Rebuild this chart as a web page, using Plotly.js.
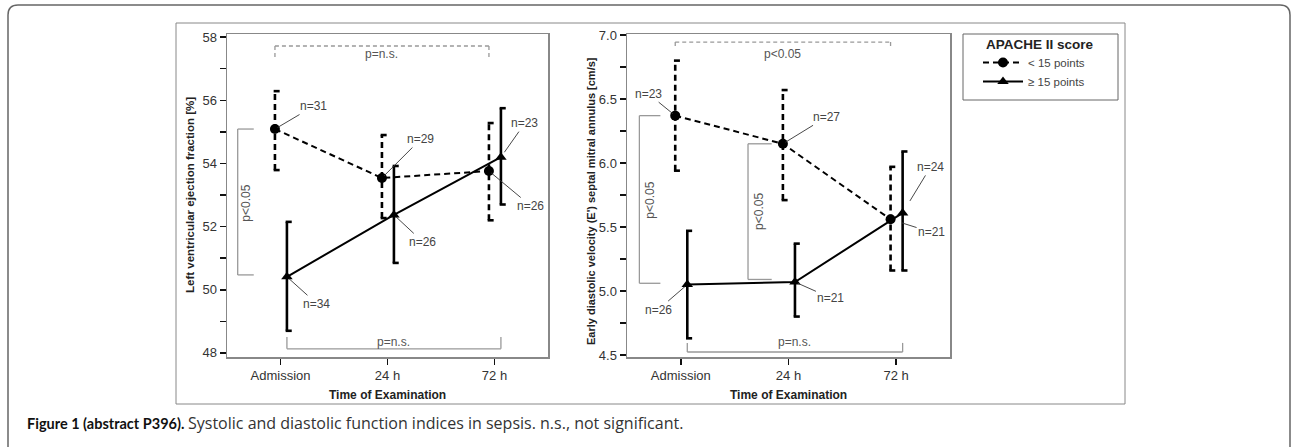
<!DOCTYPE html>
<html>
<head>
<meta charset="utf-8">
<script src="https://cdn.plot.ly/plotly-3.0.1.min.js"></script>
<style>
html,body{margin:0;padding:0;background:#fff;}
#chart{width:1292px;height:447px;}
</style>
</head>
<body>
<div id="chart"></div>
<script>
// ---------- data ----------
const timepoints = ['Admission', '24 h', '72 h'];
const seriesNames = ['< 15 points', '\u2265 15 points'];

// Left ventricular ejection fraction [%]
const efLowMean = [55.09, 53.54, 53.76];
const efLowUpper = [56.29, 54.90, 55.28];
const efLowLower = [53.79, 52.27, 52.20];
const efLowN = [31, 29, 26];
const efHighMean = [50.41, 52.37, 54.20];
const efHighUpper = [52.15, 53.92, 55.75];
const efHighLower = [48.70, 50.85, 52.70];
const efHighN = [34, 26, 23];

// Early diastolic velocity (E') [cm/s]
const eLowMean = [6.37, 6.15, 5.56];
const eLowUpper = [6.80, 6.57, 5.97];
const eLowLower = [5.94, 5.71, 5.16];
const eLowN = [23, 27, 21];
const eHighMean = [5.05, 5.07, 5.61];
const eHighUpper = [5.47, 5.37, 6.09];
const eHighLower = [4.63, 4.80, 5.16];
const eHighN = [26, 21, 24];

const efTicks = [48, 49, 50, 51, 52, 53, 54, 55, 56, 57, 58];
const eTicks = [4.5, 4.75, 5.0, 5.25, 5.5, 5.75, 6.0, 6.25, 6.5, 6.75, 7.0];

// ---------- helpers ----------
const W = 1292, H = 447;
const px = v => v / W;
const py = v => 1 - v / H;
const idx = [0, 1, 2];
const OFF_LOW = -0.052, OFF_HIGH = 0.06;
const xLow = idx.map(i => i + OFF_LOW);
const xHigh = idx.map(i => i + OFF_HIGH);

function errTrace(xs, lo, hi, dash, xa, ya) {
  const X = [], Y = [];
  xs.forEach((x, i) => {
    X.push(x, x, null, x - 0.012, x + 0.045, null, x - 0.012, x + 0.045, null);
    Y.push(lo[i], hi[i], null, hi[i], hi[i], null, lo[i], lo[i], null);
  });
  return {x: X, y: Y, mode: 'lines', xaxis: xa, yaxis: ya, showlegend: false, hoverinfo: 'skip',
          line: {color: '#000', width: 2.6, dash: dash}};
}
function meanTrace(xs, ys, name, dash, sym, xa, ya, legend) {
  return {x: xs, y: ys, name: name, mode: 'lines+markers', xaxis: xa, yaxis: ya, showlegend: legend,
          line: {color: '#000', width: 2, dash: dash},
          marker: {color: '#000', size: 10, symbol: sym}};
}

const DASH = '6px,4px';
const traces = [
  errTrace(xLow, efLowLower, efLowUpper, DASH, 'x', 'y'),
  errTrace(xHigh, efHighLower, efHighUpper, 'solid', 'x', 'y'),
  meanTrace(xLow, efLowMean, seriesNames[0], DASH, 'circle', 'x', 'y', true),
  meanTrace(xHigh, efHighMean, seriesNames[1], 'solid', 'triangle-up', 'x', 'y', true),
  errTrace(xLow, eLowLower, eLowUpper, DASH, 'x2', 'y2'),
  errTrace(xHigh, eHighLower, eHighUpper, 'solid', 'x2', 'y2'),
  meanTrace(xLow, eLowMean, seriesNames[0], DASH, 'circle', 'x2', 'y2', false),
  meanTrace(xHigh, eHighMean, seriesNames[1], 'solid', 'triangle-up', 'x2', 'y2', false)
];

// ---------- annotations ----------
const NFONT = {family: 'Liberation Sans, Arial, sans-serif', size: 12, color: '#444'};
function nLabel(x, y, n, ax, ay, xr, yr, standoff) {
  return {x: x, y: y, xref: xr, yref: yr, text: 'n=' + n, showarrow: true, arrowhead: 0,
          arrowwidth: 0.9, arrowcolor: '#333', ax: ax, ay: ay, standoff: standoff || 3, font: NFONT};
}
const BR = '#999';
const BFONT = {family: 'Liberation Sans, Arial, sans-serif', size: 12, color: '#555'};
function txt(x, y, xr, yr, text, font, angle) {
  return {x: x, y: y, xref: xr, yref: yr, text: text, showarrow: false, font: font,
          xanchor: 'center', yanchor: 'middle', textangle: angle || 0};
}
const TITLEFONT = {family: 'Liberation Sans, Arial, sans-serif', size: 12, color: '#222'};
const annotations = [
  nLabel(xLow[0], efLowMean[0], efLowN[0], 39, -23, 'x', 'y'),
  nLabel(xLow[1], efLowMean[1], efLowN[1], 39, -39, 'x', 'y'),
  nLabel(xLow[2], efLowMean[2], efLowN[2], 42, 35, 'x', 'y'),
  nLabel(xHigh[0], efHighMean[0], efHighN[0], 30, 27, 'x', 'y'),
  nLabel(xHigh[1], efHighMean[1], efHighN[1], 29, 27, 'x', 'y'),
  nLabel(xHigh[2], efHighMean[2], efHighN[2], 24, -34, 'x', 'y', 6),
  nLabel(xLow[0], eLowMean[0], eLowN[0], -27, -22, 'x2', 'y2'),
  nLabel(xLow[1], eLowMean[1], eLowN[1], 44, -27, 'x2', 'y2'),
  nLabel(xLow[2], eLowMean[2], eLowN[2], 41, 13, 'x2', 'y2', 12),
  nLabel(xHigh[0], eHighMean[0], eHighN[0], -29, 25, 'x2', 'y2'),
  nLabel(xHigh[1], eHighMean[1], eHighN[1], 36, 16, 'x2', 'y2'),
  nLabel(xHigh[2], eHighMean[2], eHighN[2], 28, -46, 'x2', 'y2', 14),
  // bracket texts
  txt((xLow[0] + xLow[2]) / 2, 57.48, 'x', 'y', 'p=n.s.', BFONT),
  txt((xHigh[0] + xHigh[2]) / 2, 48.36, 'x', 'y', 'p=n.s.', BFONT),
  txt(-0.325, (efLowMean[0] + efHighMean[0]) / 2, 'x', 'y', 'p<0.05', BFONT, -90),
  txt((xLow[0] + xLow[2]) / 2, 6.855, 'x2', 'y2', 'p<0.05', BFONT),
  txt((xHigh[0] + xHigh[2]) / 2, 4.605, 'x2', 'y2', 'p=n.s.', BFONT),
  txt(-0.29, 5.71, 'x2', 'y2', 'p<0.05', BFONT, -90),
  txt(0.72, 5.62, 'x2', 'y2', 'p<0.05', BFONT, -90),
  // axis titles
  txt(px(190), py(195), 'paper', 'paper', '<b>Left ventricular ejection fraction [%]</b>',
      {family: 'Liberation Sans, Arial, sans-serif', size: 11.5, color: '#222'}, -90),
  txt(px(591), py(201), 'paper', 'paper', "<b>Early diastolic velocity (E') septal mitral annulus [cm/s]</b>",
      {family: 'Liberation Sans, Arial, sans-serif', size: 11, color: '#222'}, -90),
  txt(px(387), py(395), 'paper', 'paper', '<b>Time of Examination</b>', TITLEFONT),
  txt(px(788), py(395), 'paper', 'paper', '<b>Time of Examination</b>', TITLEFONT),
  // legend title
  txt(px(1040), py(45), 'paper', 'paper', '<b>APACHE II score</b>',
      {family: 'Liberation Sans, Arial, sans-serif', size: 13.5, color: '#222'}),
  // caption (bold lead + regular text)
  {x: px(25), y: py(423), xref: 'paper', yref: 'paper', xanchor: 'left', yanchor: 'middle', showarrow: false,
   text: '<b>Figure 1 (abstract P396).</b>',
   font: {family: 'Lato, sans-serif', size: 14.5, color: '#111'}},
  {x: px(186), y: py(423), xref: 'paper', yref: 'paper', xanchor: 'left', yanchor: 'middle', showarrow: false,
   text: 'Systolic and diastolic function indices in sepsis. n.s., not significant.',
   font: {family: 'Open Sans, sans-serif', size: 16, color: '#333'}}
];

// ---------- shapes ----------
function seg(x0, y0, x1, y1, xr, yr, dash) {
  return {type: 'line', x0: x0, y0: y0, x1: x1, y1: y1, xref: xr, yref: yr,
          line: {color: BR, width: 1.3, dash: dash || 'solid'}};
}
const shapes = [
  // outer rounded frame
  {type: 'path', xref: 'paper', yref: 'paper',
   path: `M ${px(8)} ${py(447)} L ${px(8)} ${py(15)} Q ${px(8)} ${py(5)} ${px(18)} ${py(5)} L ${px(1280)} ${py(5)} Q ${px(1290)} ${py(5)} ${px(1290)} ${py(15)} L ${px(1290)} ${py(447)}`,
   line: {color: '#666', width: 1.5}},
  // inner figure frame
  {type: 'rect', xref: 'paper', yref: 'paper', x0: px(176), x1: px(1125), y0: py(404), y1: py(23), line: {color: '#888', width: 1}},
  // legend box
  {type: 'rect', xref: 'paper', yref: 'paper', x0: px(963), x1: px(1118), y0: py(100), y1: py(34), line: {color: '#666', width: 1}},
  // left top dashed bracket
  seg(xLow[0], 57.72, xLow[2], 57.72, 'x', 'y', '4px,3px'),
  seg(xLow[0], 57.72, xLow[0], 57.36, 'x', 'y', '4px,3px'),
  seg(xLow[2], 57.72, xLow[2], 57.36, 'x', 'y', '4px,3px'),
  // left bottom bracket
  seg(xHigh[0], 48.13, xHigh[2], 48.13, 'x', 'y'),
  seg(xHigh[0], 48.13, xHigh[0], 48.5, 'x', 'y'),
  seg(xHigh[2], 48.13, xHigh[2], 48.5, 'x', 'y'),
  // left p<0.05 bracket
  seg(-0.40, efLowMean[0], -0.40, efHighMean[0] + 0.06, 'x', 'y'),
  seg(-0.40, efLowMean[0], -0.25, efLowMean[0], 'x', 'y'),
  seg(-0.40, efHighMean[0] + 0.06, -0.25, efHighMean[0] + 0.06, 'x', 'y'),
  // right top dashed bracket
  seg(xLow[0], 6.945, xLow[2], 6.945, 'x2', 'y2', '4px,3px'),
  seg(xLow[0], 6.945, xLow[0], 6.89, 'x2', 'y2', '4px,3px'),
  seg(xLow[2], 6.945, xLow[2], 6.89, 'x2', 'y2', '4px,3px'),
  // right bottom bracket
  seg(xHigh[0], 4.523, xHigh[2], 4.523, 'x2', 'y2'),
  seg(xHigh[0], 4.523, xHigh[0], 4.594, 'x2', 'y2'),
  seg(xHigh[2], 4.523, xHigh[2], 4.594, 'x2', 'y2'),
  // right p<0.05 bracket 1
  seg(-0.385, eLowMean[0], -0.385, eHighMean[0] + 0.01, 'x2', 'y2'),
  seg(-0.385, eLowMean[0], -0.19, eLowMean[0], 'x2', 'y2'),
  seg(-0.385, eHighMean[0] + 0.01, -0.19, eHighMean[0] + 0.01, 'x2', 'y2'),
  // right p<0.05 bracket 2
  seg(0.624, eLowMean[1], 0.624, eHighMean[1] + 0.02, 'x2', 'y2'),
  seg(0.624, eLowMean[1], 0.844, eLowMean[1], 'x2', 'y2'),
  seg(0.624, eHighMean[1] + 0.02, 0.844, eHighMean[1] + 0.02, 'x2', 'y2')
];

// ---------- axes ----------
const TFONT = {family: 'Liberation Sans, Arial, sans-serif', size: 13, color: '#333'};
function xAxis(dom, anchor) {
  return {domain: dom, anchor: anchor, range: [-0.5, 2.5], tickvals: idx, ticktext: timepoints,
          showline: true, mirror: true, linecolor: '#888', linewidth: 1.5, showgrid: false, zeroline: false,
          ticks: 'outside', ticklen: 6, tickwidth: 1.5, tickcolor: '#111', tickfont: TFONT, fixedrange: true};
}
function yAxis(dom, anchor, range, tv, tt) {
  return {domain: dom, anchor: anchor, range: range, tickvals: tv, ticktext: tt,
          showline: true, mirror: true, linecolor: '#888', linewidth: 1.5, showgrid: false, zeroline: false,
          ticks: 'outside', ticklen: 6, tickwidth: 1.5, tickcolor: '#111', tickfont: TFONT, fixedrange: true};
}
const yDom = [py(357), py(34)];
const layout = {
  width: W, height: H,
  margin: {l: 0, r: 0, t: 0, b: 0},
  paper_bgcolor: '#fff', plot_bgcolor: '#fff',
  showlegend: true,
  legend: {x: px(978), y: py(48), xanchor: 'left', yanchor: 'top', bgcolor: 'rgba(0,0,0,0)', borderwidth: 0,
           font: {family: 'Liberation Sans, Arial, sans-serif', size: 11.5, color: '#444'},
           itemwidth: 40, tracegroupgap: 0},
  xaxis: xAxis([px(227), px(548)], 'y'),
  yaxis: yAxis(yDom, 'x', [47.87, 58.1], efTicks, efTicks.map(v => v % 2 === 0 ? String(v) : '')),
  xaxis2: xAxis([px(627), px(950)], 'y2'),
  yaxis2: yAxis(yDom, 'x2', [4.484, 7.008], eTicks, eTicks.map(v => (v * 2) % 1 === 0 ? v.toFixed(1) : '')),
  annotations: annotations,
  shapes: shapes
};

Plotly.newPlot('chart', traces, layout, {displayModeBar: false, staticPlot: true});
</script>
</body>
</html>
